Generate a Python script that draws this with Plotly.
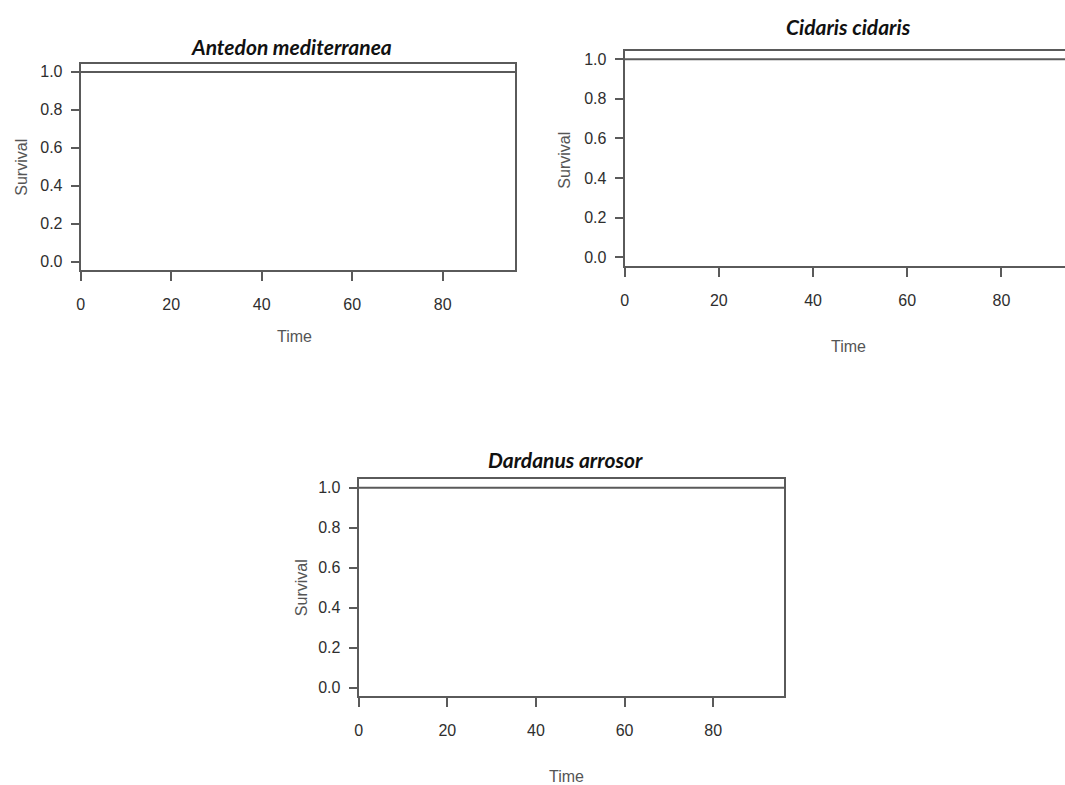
import plotly.graph_objects as go

# ---- data ----
species = ["Antedon mediterranea", "Cidaris cidaris", "Dardanus arrosor"]
time_points = [0, 96]
survival_values = [1.0, 1.0]
x_ticks = [0, 20, 40, 60, 80]
x_tick_labels = ["0", "20", "40", "60", "80"]
y_ticks = [0.0, 0.2, 0.4, 0.6, 0.8, 1.0]
y_tick_labels = ["0.0", "0.2", "0.4", "0.6", "0.8", "1.0"]
x_label = "Time"
y_label = "Survival"

W, H = 1065, 785
# panel boxes in pixels: left, right, top, bottom, x max
panels = [
    dict(l=77, r=513, t=64, b=270, xmax=96, mirror_y=True),
    dict(l=623, r=1065, t=51, b=266, xmax=93.5, mirror_y=False),
    dict(l=356, r=783, t=480, b=697, xmax=96, mirror_y=True),
]
title_pos = [(289, 47), (848, 27), (564, 460)]
ylab_pos = [(18, 167), (563, 160), (298, 588)]
xlab_pos = [(292, 337), (848, 347), (565, 777)]

TICK_FONT = dict(family="Liberation Sans, Arial, sans-serif", size=16, color="#2e2e2e")
LAB_FONT = dict(family="Liberation Sans, Arial, sans-serif", size=16, color="#555555")
TITLE_FONT = dict(family="Lato, Open Sans, sans-serif", size=21, color="#111111",
                  weight="bold", style="italic")
LINE_COL = "#5a5a5a"

fig = go.Figure()
annotations = []
for i, (name, p) in enumerate(zip(species, panels)):
    k = "" if i == 0 else str(i + 1)
    fig.add_trace(go.Scatter(
        x=time_points, y=survival_values, mode="lines",
        line=dict(color=LINE_COL, width=2), showlegend=False,
        xaxis="x" + k, yaxis="y" + k, hoverinfo="skip"))
    fig.layout["xaxis" + k] = dict(
        domain=[p["l"] / W, p["r"] / W], anchor="y" + k,
        range=[0, p["xmax"]], tickmode="array", tickvals=x_ticks,
        ticktext=x_tick_labels, ticks="outside", ticklen=9, tickwidth=2,
        tickcolor=LINE_COL, showline=True, linecolor=LINE_COL, linewidth=2,
        mirror=True, showgrid=False, zeroline=False, tickfont=TICK_FONT,
        ticklabelstandoff=10, fixedrange=True)
    fig.layout["yaxis" + k] = dict(
        domain=[1 - p["b"] / H, 1 - p["t"] / H], anchor="x" + k,
        range=[-0.042, 1.042], tickmode="array", tickvals=y_ticks,
        ticktext=y_tick_labels, ticks="outside", ticklen=8, tickwidth=2,
        tickcolor=LINE_COL, showline=True, linecolor=LINE_COL, linewidth=2,
        mirror=p["mirror_y"], showgrid=False, zeroline=False, tickfont=TICK_FONT,
        ticklabelstandoff=5, fixedrange=True)
    tx, ty = title_pos[i]
    annotations.append(dict(text=name, x=tx / W, y=1 - ty / H, xref="paper", yref="paper",
                            showarrow=False, font=TITLE_FONT, xanchor="center", yanchor="middle"))
    lx, ly = ylab_pos[i]
    annotations.append(dict(text=y_label, x=lx / W, y=1 - ly / H, xref="paper", yref="paper",
                            showarrow=False, font=LAB_FONT, textangle=-90,
                            xanchor="center", yanchor="middle"))
    lx, ly = xlab_pos[i]
    annotations.append(dict(text=x_label, x=lx / W, y=1 - ly / H, xref="paper", yref="paper",
                            showarrow=False, font=LAB_FONT, xanchor="center", yanchor="middle"))

fig.update_layout(
    width=W, height=H, margin=dict(l=0, r=0, t=0, b=0),
    paper_bgcolor="white", plot_bgcolor="white",
    annotations=annotations, showlegend=False)

fig.write_html("out.html", config={"displayModeBar": False})
